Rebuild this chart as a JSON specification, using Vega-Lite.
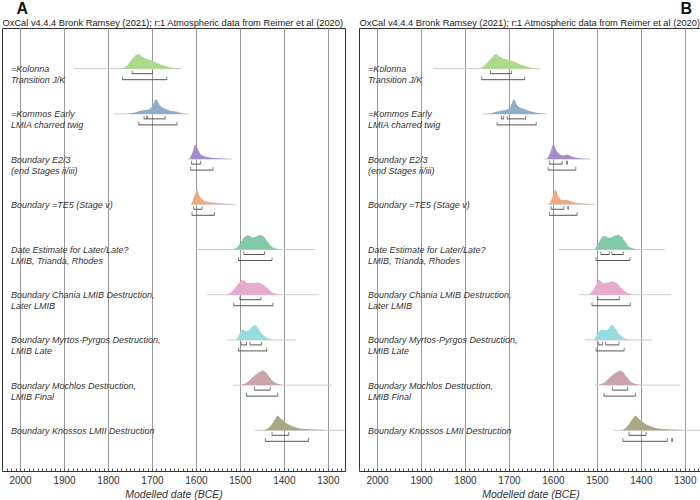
{
  "$schema": "https://vega.github.io/schema/vega-lite/v6.json",
  "padding": {"top": 0, "left": 1, "right": 0, "bottom": 0},
  "spacing": 12,
  "config": {
    "font": "Liberation Sans",
    "view": {"stroke": "#333", "strokeWidth": 1},
    "title": {"fontSize": 16, "fontWeight": "bold", "color": "#111", "offset": 1}
  },
  "datasets": {
    "tails": [
      {"p": "A", "r": 1, "date": 1877, "date2": 1633},
      {"p": "A", "r": 2, "date": 1786, "date2": 1617},
      {"p": "A", "r": 3, "date": 1620, "date2": 1518},
      {"p": "A", "r": 4, "date": 1611, "date2": 1508},
      {"p": "A", "r": 5, "date": 1599, "date2": 1330},
      {"p": "A", "r": 6, "date": 1574, "date2": 1319},
      {"p": "A", "r": 7, "date": 1531, "date2": 1373},
      {"p": "A", "r": 8, "date": 1514, "date2": 1291},
      {"p": "A", "r": 9, "date": 1467, "date2": 1261},
      {"p": "B", "r": 1, "date": 1873, "date2": 1629},
      {"p": "B", "r": 2, "date": 1759, "date2": 1614},
      {"p": "B", "r": 3, "date": 1621, "date2": 1514},
      {"p": "B", "r": 4, "date": 1612, "date2": 1506},
      {"p": "B", "r": 5, "date": 1587, "date2": 1346},
      {"p": "B", "r": 6, "date": 1542, "date2": 1331},
      {"p": "B", "r": 7, "date": 1528, "date2": 1374},
      {"p": "B", "r": 8, "date": 1505, "date2": 1310},
      {"p": "B", "r": 9, "date": 1462, "date2": 1262}
    ],
    "ranges": [
      {"p": "A", "r": 1, "lev": 68, "date": 1745, "date2": 1699},
      {"p": "A", "r": 1, "lev": 95, "date": 1767, "date2": 1666},
      {"p": "A", "r": 2, "lev": 68, "date": 1718, "date2": 1712},
      {"p": "A", "r": 2, "lev": 68, "date": 1710, "date2": 1670},
      {"p": "A", "r": 2, "lev": 95, "date": 1730, "date2": 1643},
      {"p": "A", "r": 3, "lev": 68, "date": 1610, "date2": 1589},
      {"p": "A", "r": 3, "lev": 95, "date": 1612, "date2": 1561},
      {"p": "A", "r": 4, "lev": 68, "date": 1605, "date2": 1586},
      {"p": "A", "r": 4, "lev": 95, "date": 1609, "date2": 1558},
      {"p": "A", "r": 5, "lev": 68, "date": 1491, "date2": 1444},
      {"p": "A", "r": 5, "lev": 95, "date": 1503, "date2": 1427},
      {"p": "A", "r": 6, "lev": 68, "date": 1500, "date2": 1452},
      {"p": "A", "r": 6, "lev": 95, "date": 1514, "date2": 1425},
      {"p": "A", "r": 7, "lev": 68, "date": 1497, "date2": 1485},
      {"p": "A", "r": 7, "lev": 68, "date": 1477, "date2": 1451},
      {"p": "A", "r": 7, "lev": 95, "date": 1503, "date2": 1439},
      {"p": "A", "r": 8, "lev": 68, "date": 1467, "date2": 1431},
      {"p": "A", "r": 8, "lev": 95, "date": 1485, "date2": 1414},
      {"p": "A", "r": 9, "lev": 68, "date": 1427, "date2": 1389},
      {"p": "A", "r": 9, "lev": 95, "date": 1442, "date2": 1344},
      {"p": "B", "r": 1, "lev": 68, "date": 1742, "date2": 1694},
      {"p": "B", "r": 1, "lev": 95, "date": 1762, "date2": 1664},
      {"p": "B", "r": 2, "lev": 68, "date": 1717, "date2": 1712},
      {"p": "B", "r": 2, "lev": 68, "date": 1704, "date2": 1662},
      {"p": "B", "r": 2, "lev": 95, "date": 1727, "date2": 1638},
      {"p": "B", "r": 3, "lev": 68, "date": 1608, "date2": 1579},
      {"p": "B", "r": 3, "lev": 68, "date": 1569, "date2": 1567},
      {"p": "B", "r": 3, "lev": 95, "date": 1611, "date2": 1548},
      {"p": "B", "r": 4, "lev": 68, "date": 1604, "date2": 1575},
      {"p": "B", "r": 4, "lev": 68, "date": 1566, "date2": 1565},
      {"p": "B", "r": 4, "lev": 95, "date": 1608, "date2": 1545},
      {"p": "B", "r": 5, "lev": 68, "date": 1491, "date2": 1472},
      {"p": "B", "r": 5, "lev": 68, "date": 1466, "date2": 1440},
      {"p": "B", "r": 5, "lev": 95, "date": 1502, "date2": 1425},
      {"p": "B", "r": 6, "lev": 68, "date": 1498, "date2": 1449},
      {"p": "B", "r": 6, "lev": 95, "date": 1511, "date2": 1424},
      {"p": "B", "r": 7, "lev": 68, "date": 1496, "date2": 1487},
      {"p": "B", "r": 7, "lev": 68, "date": 1480, "date2": 1450},
      {"p": "B", "r": 7, "lev": 95, "date": 1502, "date2": 1438},
      {"p": "B", "r": 8, "lev": 68, "date": 1465, "date2": 1430},
      {"p": "B", "r": 8, "lev": 95, "date": 1484, "date2": 1412},
      {"p": "B", "r": 9, "lev": 68, "date": 1427, "date2": 1388},
      {"p": "B", "r": 9, "lev": 95, "date": 1441, "date2": 1340},
      {"p": "B", "r": 9, "lev": 95, "date": 1330, "date2": 1328}
    ],
    "dens": [
      {"p": "A", "r": 1, "date": 1772, "d": 0}, {"p": "A", "r": 1, "date": 1758, "d": 0.18}, {"p": "A", "r": 1, "date": 1747, "d": 0.59}, {"p": "A", "r": 1, "date": 1739, "d": 0.86}, {"p": "A", "r": 1, "date": 1732, "d": 1}, {"p": "A", "r": 1, "date": 1724, "d": 0.86}, {"p": "A", "r": 1, "date": 1713, "d": 0.68}, {"p": "A", "r": 1, "date": 1701, "d": 0.57}, {"p": "A", "r": 1, "date": 1690, "d": 0.41}, {"p": "A", "r": 1, "date": 1679, "d": 0.27}, {"p": "A", "r": 1, "date": 1664, "d": 0.14}, {"p": "A", "r": 1, "date": 1648, "d": 0.05}, {"p": "A", "r": 1, "date": 1633, "d": 0},
      {"p": "A", "r": 2, "date": 1757, "d": 0}, {"p": "A", "r": 2, "date": 1739, "d": 0.09}, {"p": "A", "r": 2, "date": 1728, "d": 0.2}, {"p": "A", "r": 2, "date": 1717, "d": 0.27}, {"p": "A", "r": 2, "date": 1705, "d": 0.34}, {"p": "A", "r": 2, "date": 1698, "d": 0.61}, {"p": "A", "r": 2, "date": 1690, "d": 1}, {"p": "A", "r": 2, "date": 1685, "d": 0.73}, {"p": "A", "r": 2, "date": 1679, "d": 0.5}, {"p": "A", "r": 2, "date": 1667, "d": 0.32}, {"p": "A", "r": 2, "date": 1656, "d": 0.2}, {"p": "A", "r": 2, "date": 1645, "d": 0.16}, {"p": "A", "r": 2, "date": 1633, "d": 0.05}, {"p": "A", "r": 2, "date": 1622, "d": 0},
      {"p": "A", "r": 3, "date": 1615, "d": 0}, {"p": "A", "r": 3, "date": 1611, "d": 0.23}, {"p": "A", "r": 3, "date": 1607, "d": 0.52}, {"p": "A", "r": 3, "date": 1601, "d": 1}, {"p": "A", "r": 3, "date": 1595, "d": 0.64}, {"p": "A", "r": 3, "date": 1588, "d": 0.3}, {"p": "A", "r": 3, "date": 1576, "d": 0.16}, {"p": "A", "r": 3, "date": 1565, "d": 0.09}, {"p": "A", "r": 3, "date": 1550, "d": 0.05}, {"p": "A", "r": 3, "date": 1527, "d": 0.01}, {"p": "A", "r": 3, "date": 1518, "d": 0},
      {"p": "A", "r": 4, "date": 1611, "d": 0}, {"p": "A", "r": 4, "date": 1609, "d": 0.1}, {"p": "A", "r": 4, "date": 1603, "d": 0.6}, {"p": "A", "r": 4, "date": 1597, "d": 1}, {"p": "A", "r": 4, "date": 1592, "d": 0.57}, {"p": "A", "r": 4, "date": 1584, "d": 0.3}, {"p": "A", "r": 4, "date": 1573, "d": 0.18}, {"p": "A", "r": 4, "date": 1558, "d": 0.11}, {"p": "A", "r": 4, "date": 1542, "d": 0.07}, {"p": "A", "r": 4, "date": 1520, "d": 0.02}, {"p": "A", "r": 4, "date": 1508, "d": 0},
      {"p": "A", "r": 5, "date": 1520, "d": 0}, {"p": "A", "r": 5, "date": 1508, "d": 0.11}, {"p": "A", "r": 5, "date": 1501, "d": 0.34}, {"p": "A", "r": 5, "date": 1493, "d": 0.73}, {"p": "A", "r": 5, "date": 1482, "d": 0.97}, {"p": "A", "r": 5, "date": 1471, "d": 0.82}, {"p": "A", "r": 5, "date": 1453, "d": 1}, {"p": "A", "r": 5, "date": 1445, "d": 0.86}, {"p": "A", "r": 5, "date": 1436, "d": 0.5}, {"p": "A", "r": 5, "date": 1429, "d": 0.23}, {"p": "A", "r": 5, "date": 1417, "d": 0.07}, {"p": "A", "r": 5, "date": 1402, "d": 0},
      {"p": "A", "r": 6, "date": 1535, "d": 0}, {"p": "A", "r": 6, "date": 1523, "d": 0.11}, {"p": "A", "r": 6, "date": 1512, "d": 0.43}, {"p": "A", "r": 6, "date": 1504, "d": 0.73}, {"p": "A", "r": 6, "date": 1493, "d": 1}, {"p": "A", "r": 6, "date": 1482, "d": 0.8}, {"p": "A", "r": 6, "date": 1470, "d": 0.8}, {"p": "A", "r": 6, "date": 1459, "d": 0.84}, {"p": "A", "r": 6, "date": 1448, "d": 0.7}, {"p": "A", "r": 6, "date": 1436, "d": 0.4}, {"p": "A", "r": 6, "date": 1429, "d": 0.2}, {"p": "A", "r": 6, "date": 1417, "d": 0.07}, {"p": "A", "r": 6, "date": 1404, "d": 0},
      {"p": "A", "r": 7, "date": 1512, "d": 0}, {"p": "A", "r": 7, "date": 1508, "d": 0.05}, {"p": "A", "r": 7, "date": 1503, "d": 0.26}, {"p": "A", "r": 7, "date": 1497, "d": 0.65}, {"p": "A", "r": 7, "date": 1492, "d": 0.72}, {"p": "A", "r": 7, "date": 1486, "d": 0.58}, {"p": "A", "r": 7, "date": 1478, "d": 0.72}, {"p": "A", "r": 7, "date": 1470, "d": 0.95}, {"p": "A", "r": 7, "date": 1465, "d": 1}, {"p": "A", "r": 7, "date": 1458, "d": 0.77}, {"p": "A", "r": 7, "date": 1448, "d": 0.35}, {"p": "A", "r": 7, "date": 1440, "d": 0.16}, {"p": "A", "r": 7, "date": 1429, "d": 0.05}, {"p": "A", "r": 7, "date": 1417, "d": 0},
      {"p": "A", "r": 8, "date": 1500, "d": 0}, {"p": "A", "r": 8, "date": 1486, "d": 0.14}, {"p": "A", "r": 8, "date": 1474, "d": 0.45}, {"p": "A", "r": 8, "date": 1463, "d": 0.75}, {"p": "A", "r": 8, "date": 1453, "d": 0.93}, {"p": "A", "r": 8, "date": 1448, "d": 1}, {"p": "A", "r": 8, "date": 1440, "d": 0.84}, {"p": "A", "r": 8, "date": 1432, "d": 0.52}, {"p": "A", "r": 8, "date": 1423, "d": 0.23}, {"p": "A", "r": 8, "date": 1414, "d": 0.09}, {"p": "A", "r": 8, "date": 1402, "d": 0.02}, {"p": "A", "r": 8, "date": 1395, "d": 0},
      {"p": "A", "r": 9, "date": 1448, "d": 0}, {"p": "A", "r": 9, "date": 1436, "d": 0.14}, {"p": "A", "r": 9, "date": 1427, "d": 0.43}, {"p": "A", "r": 9, "date": 1420, "d": 0.77}, {"p": "A", "r": 9, "date": 1414, "d": 1}, {"p": "A", "r": 9, "date": 1406, "d": 0.77}, {"p": "A", "r": 9, "date": 1395, "d": 0.5}, {"p": "A", "r": 9, "date": 1383, "d": 0.32}, {"p": "A", "r": 9, "date": 1368, "d": 0.16}, {"p": "A", "r": 9, "date": 1353, "d": 0.09}, {"p": "A", "r": 9, "date": 1330, "d": 0.05}, {"p": "A", "r": 9, "date": 1300, "d": 0.01}, {"p": "A", "r": 9, "date": 1290, "d": 0},
      {"p": "B", "r": 1, "date": 1768, "d": 0}, {"p": "B", "r": 1, "date": 1755, "d": 0.23}, {"p": "B", "r": 1, "date": 1744, "d": 0.59}, {"p": "B", "r": 1, "date": 1736, "d": 0.86}, {"p": "B", "r": 1, "date": 1730, "d": 1}, {"p": "B", "r": 1, "date": 1721, "d": 0.82}, {"p": "B", "r": 1, "date": 1710, "d": 0.68}, {"p": "B", "r": 1, "date": 1698, "d": 0.59}, {"p": "B", "r": 1, "date": 1687, "d": 0.45}, {"p": "B", "r": 1, "date": 1676, "d": 0.32}, {"p": "B", "r": 1, "date": 1661, "d": 0.16}, {"p": "B", "r": 1, "date": 1646, "d": 0.05}, {"p": "B", "r": 1, "date": 1630, "d": 0},
      {"p": "B", "r": 2, "date": 1750, "d": 0}, {"p": "B", "r": 2, "date": 1740, "d": 0.05}, {"p": "B", "r": 2, "date": 1729, "d": 0.14}, {"p": "B", "r": 2, "date": 1717, "d": 0.23}, {"p": "B", "r": 2, "date": 1702, "d": 0.34}, {"p": "B", "r": 2, "date": 1695, "d": 0.61}, {"p": "B", "r": 2, "date": 1689, "d": 1}, {"p": "B", "r": 2, "date": 1683, "d": 0.68}, {"p": "B", "r": 2, "date": 1676, "d": 0.45}, {"p": "B", "r": 2, "date": 1664, "d": 0.32}, {"p": "B", "r": 2, "date": 1653, "d": 0.2}, {"p": "B", "r": 2, "date": 1642, "d": 0.11}, {"p": "B", "r": 2, "date": 1630, "d": 0.05}, {"p": "B", "r": 2, "date": 1619, "d": 0},
      {"p": "B", "r": 3, "date": 1615, "d": 0}, {"p": "B", "r": 3, "date": 1612, "d": 0.07}, {"p": "B", "r": 3, "date": 1606, "d": 0.45}, {"p": "B", "r": 3, "date": 1599, "d": 1}, {"p": "B", "r": 3, "date": 1593, "d": 0.64}, {"p": "B", "r": 3, "date": 1585, "d": 0.34}, {"p": "B", "r": 3, "date": 1576, "d": 0.25}, {"p": "B", "r": 3, "date": 1566, "d": 0.3}, {"p": "B", "r": 3, "date": 1557, "d": 0.18}, {"p": "B", "r": 3, "date": 1544, "d": 0.07}, {"p": "B", "r": 3, "date": 1525, "d": 0.02}, {"p": "B", "r": 3, "date": 1514, "d": 0},
      {"p": "B", "r": 4, "date": 1611, "d": 0}, {"p": "B", "r": 4, "date": 1608, "d": 0.05}, {"p": "B", "r": 4, "date": 1602, "d": 0.45}, {"p": "B", "r": 4, "date": 1594, "d": 1}, {"p": "B", "r": 4, "date": 1588, "d": 0.57}, {"p": "B", "r": 4, "date": 1579, "d": 0.3}, {"p": "B", "r": 4, "date": 1570, "d": 0.3}, {"p": "B", "r": 4, "date": 1561, "d": 0.23}, {"p": "B", "r": 4, "date": 1548, "d": 0.11}, {"p": "B", "r": 4, "date": 1529, "d": 0.05}, {"p": "B", "r": 4, "date": 1510, "d": 0},
      {"p": "B", "r": 5, "date": 1510, "d": 0}, {"p": "B", "r": 5, "date": 1506, "d": 0.02}, {"p": "B", "r": 5, "date": 1498, "d": 0.34}, {"p": "B", "r": 5, "date": 1491, "d": 0.73}, {"p": "B", "r": 5, "date": 1483, "d": 0.93}, {"p": "B", "r": 5, "date": 1472, "d": 0.8}, {"p": "B", "r": 5, "date": 1461, "d": 0.93}, {"p": "B", "r": 5, "date": 1451, "d": 1}, {"p": "B", "r": 5, "date": 1442, "d": 0.8}, {"p": "B", "r": 5, "date": 1434, "d": 0.45}, {"p": "B", "r": 5, "date": 1427, "d": 0.18}, {"p": "B", "r": 5, "date": 1415, "d": 0.05}, {"p": "B", "r": 5, "date": 1404, "d": 0},
      {"p": "B", "r": 6, "date": 1522, "d": 0}, {"p": "B", "r": 6, "date": 1517, "d": 0.05}, {"p": "B", "r": 6, "date": 1510, "d": 0.27}, {"p": "B", "r": 6, "date": 1502, "d": 0.66}, {"p": "B", "r": 6, "date": 1495, "d": 1}, {"p": "B", "r": 6, "date": 1486, "d": 0.8}, {"p": "B", "r": 6, "date": 1476, "d": 0.84}, {"p": "B", "r": 6, "date": 1465, "d": 0.93}, {"p": "B", "r": 6, "date": 1453, "d": 0.73}, {"p": "B", "r": 6, "date": 1442, "d": 0.39}, {"p": "B", "r": 6, "date": 1433, "d": 0.16}, {"p": "B", "r": 6, "date": 1423, "d": 0.05}, {"p": "B", "r": 6, "date": 1412, "d": 0},
      {"p": "B", "r": 7, "date": 1510, "d": 0}, {"p": "B", "r": 7, "date": 1506, "d": 0.05}, {"p": "B", "r": 7, "date": 1500, "d": 0.34}, {"p": "B", "r": 7, "date": 1493, "d": 0.66}, {"p": "B", "r": 7, "date": 1486, "d": 0.7}, {"p": "B", "r": 7, "date": 1478, "d": 0.66}, {"p": "B", "r": 7, "date": 1471, "d": 0.89}, {"p": "B", "r": 7, "date": 1465, "d": 1}, {"p": "B", "r": 7, "date": 1457, "d": 0.75}, {"p": "B", "r": 7, "date": 1449, "d": 0.39}, {"p": "B", "r": 7, "date": 1440, "d": 0.16}, {"p": "B", "r": 7, "date": 1431, "d": 0.05}, {"p": "B", "r": 7, "date": 1419, "d": 0},
      {"p": "B", "r": 8, "date": 1500, "d": 0}, {"p": "B", "r": 8, "date": 1495, "d": 0.02}, {"p": "B", "r": 8, "date": 1483, "d": 0.18}, {"p": "B", "r": 8, "date": 1472, "d": 0.48}, {"p": "B", "r": 8, "date": 1461, "d": 0.77}, {"p": "B", "r": 8, "date": 1453, "d": 0.91}, {"p": "B", "r": 8, "date": 1447, "d": 1}, {"p": "B", "r": 8, "date": 1440, "d": 0.86}, {"p": "B", "r": 8, "date": 1433, "d": 0.59}, {"p": "B", "r": 8, "date": 1423, "d": 0.25}, {"p": "B", "r": 8, "date": 1413, "d": 0.09}, {"p": "B", "r": 8, "date": 1400, "d": 0.02}, {"p": "B", "r": 8, "date": 1393, "d": 0},
      {"p": "B", "r": 9, "date": 1448, "d": 0}, {"p": "B", "r": 9, "date": 1442, "d": 0.02}, {"p": "B", "r": 9, "date": 1434, "d": 0.18}, {"p": "B", "r": 9, "date": 1425, "d": 0.5}, {"p": "B", "r": 9, "date": 1418, "d": 0.82}, {"p": "B", "r": 9, "date": 1412, "d": 1}, {"p": "B", "r": 9, "date": 1404, "d": 0.77}, {"p": "B", "r": 9, "date": 1393, "d": 0.5}, {"p": "B", "r": 9, "date": 1381, "d": 0.32}, {"p": "B", "r": 9, "date": 1366, "d": 0.16}, {"p": "B", "r": 9, "date": 1351, "d": 0.09}, {"p": "B", "r": 9, "date": 1329, "d": 0.05}, {"p": "B", "r": 9, "date": 1298, "d": 0.01}, {"p": "B", "r": 9, "date": 1288, "d": 0}
    ]
  },
  "hconcat": [
    {
      "width": 343,
      "height": 443,
      "title": {"text": "A", "anchor": "start", "dx": 15},
      "encoding": {
        "x": {
          "field": "date", "type": "quantitative",
          "scale": {"domain": [1261, 2041], "reverse": true, "nice": false, "zero": false},
          "axis": {
            "title": "Modelled date (BCE)", "titleFontStyle": "italic", "titleFontSize": 10.5, "titleFontWeight": "normal", "titleColor": "#333", "titlePadding": 4,
            "values": [1270,1280,1290,1300,1310,1320,1330,1340,1350,1360,1370,1380,1390,1400,1410,1420,1430,1440,1450,1460,1470,1480,1490,1500,1510,1520,1530,1540,1550,1560,1570,1580,1590,1600,1610,1620,1630,1640,1650,1660,1670,1680,1690,1700,1710,1720,1730,1740,1750,1760,1770,1780,1790,1800,1810,1820,1830,1840,1850,1860,1870,1880,1890,1900,1910,1920,1930,1940,1950,1960,1970,1980,1990,2000,2010,2020,2030,2040],
            "format": "d",
            "labelExpr": "datum.value % 100 === 0 ? datum.label : ''",
            "labelOverlap": false, "labelFlush": false, "labelFontSize": 10, "labelColor": "#333", "labelPadding": 7,
            "tickSize": -3, "tickColor": "#555",
            "grid": true, "gridColor": "#9a9a9a",
            "gridOpacity": {"condition": {"test": "datum.value % 100 !== 0", "value": 0}, "value": 1},
            "domainColor": "#333"
          }
        },
        "y": {
          "field": "r", "type": "ordinal",
          "scale": {"type": "point", "padding": 0.9},
          "axis": {
            "title": "OxCal v4.4.4 Bronk Ramsey (2021); r:1 Atmospheric data from Reimer et al (2020)",
            "ticks": false, "domain": false, "grid": false,
            "labels": true, "labelAlign": "left", "labelBaseline": "middle", "labelPadding": -8.5, "labelLimit": 0, "labelOverlap": false,
            "labelFontSize": 9, "labelFontStyle": "italic", "labelColor": "#333", "labelLineHeight": 11,
            "labelExpr": "datum.value == 1 ? ['=Kolonna', 'Transition J/K'] : datum.value == 2 ? ['=Kommos Early', 'LMIA charred twig'] : datum.value == 3 ? ['Boundary E2/3', '(end Stages ii/iii)'] : datum.value == 4 ? 'Boundary =TE5 (Stage v)' : datum.value == 5 ? ['Date Estimate for Later/Late?', 'LMIB, Trianda, Rhodes'] : datum.value == 6 ? ['Boundary Chania LMIB Destruction,', 'Later LMIB'] : datum.value == 7 ? ['Boundary Myrtos-Pyrgos Destruction,', 'LMIB Late'] : datum.value == 8 ? ['Boundary Mochlos Destruction,', 'LMIB Final'] : 'Boundary Knossos LMII Destruction'",
            "titleAngle": 0, "titleX": 0, "titleY": -3, "titleAlign": "left", "titleBaseline": "alphabetic",
            "titleFontSize": 9.3, "titleFontWeight": "normal", "titleColor": "#222"
          }
        }
      },
      "layer": [
        {
          "data": {"name": "tails"},
          "transform": [{"filter": "datum.p === 'A'"}],
          "mark": {"type": "rule", "color": "#cccccc", "strokeWidth": 1},
          "encoding": {"x2": {"field": "date2"}}
        },
        {
          "data": {"name": "dens"},
          "transform": [{"filter": "datum.p === 'A'"}],
          "mark": {"type": "line", "filled": true, "interpolate": "monotone", "strokeWidth": 0},
          "encoding": {
            "order": {"field": "date", "type": "quantitative", "sort": "descending"},
            "yOffset": {"field": "d", "type": "quantitative", "scale": {"domain": [0, 1], "range": [0, -14.6]}},
            "color": {"field": "r", "type": "nominal", "scale": {"domain": [1,2,3,4,5,6,7,8,9], "range": ["#acd98c","#90acc9","#a68cc8","#efaa82","#82c9a5","#e8aacd","#97dde0","#c9a5aa","#aaa785"]}, "legend": null}
          }
        },
        {
          "data": {"name": "ranges"},
          "transform": [{"filter": "datum.p === 'A' && datum.lev === 68"}],
          "mark": {"type": "rule", "color": "#555", "strokeWidth": 1, "yOffset": 5},
          "encoding": {"x2": {"field": "date2"}}
        },
        {
          "data": {"name": "ranges"},
          "transform": [{"filter": "datum.p === 'A' && datum.lev === 95"}],
          "mark": {"type": "rule", "color": "#555", "strokeWidth": 1, "yOffset": 11},
          "encoding": {"x2": {"field": "date2"}}
        },
        {
          "data": {"name": "ranges"},
          "transform": [{"filter": "datum.p === 'A' && datum.lev === 68"}, {"fold": ["date", "date2"], "as": ["k", "v"]}],
          "mark": {"type": "tick", "color": "#555", "thickness": 1, "size": 3.5, "yOffset": 3.5},
          "encoding": {"x": {"field": "v", "type": "quantitative"}}
        },
        {
          "data": {"name": "ranges"},
          "transform": [{"filter": "datum.p === 'A' && datum.lev === 95"}, {"fold": ["date", "date2"], "as": ["k", "v"]}],
          "mark": {"type": "tick", "color": "#555", "thickness": 1, "size": 3.5, "yOffset": 9.5},
          "encoding": {"x": {"field": "v", "type": "quantitative"}}
        }
      ]
    },
    {
      "width": 343,
      "height": 443,
      "title": {"text": "B", "anchor": "end", "dx": -10},
      "encoding": {
        "x": {
          "field": "date", "type": "quantitative",
          "scale": {"domain": [1261, 2041], "reverse": true, "nice": false, "zero": false},
          "axis": {
            "title": "Modelled date (BCE)", "titleFontStyle": "italic", "titleFontSize": 10.5, "titleFontWeight": "normal", "titleColor": "#333", "titlePadding": 4,
            "values": [1270,1280,1290,1300,1310,1320,1330,1340,1350,1360,1370,1380,1390,1400,1410,1420,1430,1440,1450,1460,1470,1480,1490,1500,1510,1520,1530,1540,1550,1560,1570,1580,1590,1600,1610,1620,1630,1640,1650,1660,1670,1680,1690,1700,1710,1720,1730,1740,1750,1760,1770,1780,1790,1800,1810,1820,1830,1840,1850,1860,1870,1880,1890,1900,1910,1920,1930,1940,1950,1960,1970,1980,1990,2000,2010,2020,2030,2040],
            "format": "d",
            "labelExpr": "datum.value % 100 === 0 ? datum.label : ''",
            "labelOverlap": false, "labelFlush": false, "labelFontSize": 10, "labelColor": "#333", "labelPadding": 7,
            "tickSize": -3, "tickColor": "#555",
            "grid": true, "gridColor": "#9a9a9a",
            "gridOpacity": {"condition": {"test": "datum.value % 100 !== 0", "value": 0}, "value": 1},
            "domainColor": "#333"
          }
        },
        "y": {
          "field": "r", "type": "ordinal",
          "scale": {"type": "point", "padding": 0.9},
          "axis": {
            "title": "OxCal v4.4.4 Bronk Ramsey (2021); r:1 Atmospheric data from Reimer et al (2020)",
            "ticks": false, "domain": false, "grid": false,
            "labels": true, "labelAlign": "left", "labelBaseline": "middle", "labelPadding": -8.5, "labelLimit": 0, "labelOverlap": false,
            "labelFontSize": 9, "labelFontStyle": "italic", "labelColor": "#333", "labelLineHeight": 11,
            "labelExpr": "datum.value == 1 ? ['=Kolonna', 'Transition J/K'] : datum.value == 2 ? ['=Kommos Early', 'LMIA charred twig'] : datum.value == 3 ? ['Boundary E2/3', '(end Stages ii/iii)'] : datum.value == 4 ? 'Boundary =TE5 (Stage v)' : datum.value == 5 ? ['Date Estimate for Later/Late?', 'LMIB, Trianda, Rhodes'] : datum.value == 6 ? ['Boundary Chania LMIB Destruction,', 'Later LMIB'] : datum.value == 7 ? ['Boundary Myrtos-Pyrgos Destruction,', 'LMIB Late'] : datum.value == 8 ? ['Boundary Mochlos Destruction,', 'LMIB Final'] : 'Boundary Knossos LMII Destruction'",
            "titleAngle": 0, "titleX": 0, "titleY": -3, "titleAlign": "left", "titleBaseline": "alphabetic",
            "titleFontSize": 9.3, "titleFontWeight": "normal", "titleColor": "#222"
          }
        }
      },
      "layer": [
        {
          "data": {"name": "tails"},
          "transform": [{"filter": "datum.p === 'B'"}],
          "mark": {"type": "rule", "color": "#cccccc", "strokeWidth": 1},
          "encoding": {"x2": {"field": "date2"}}
        },
        {
          "data": {"name": "dens"},
          "transform": [{"filter": "datum.p === 'B'"}],
          "mark": {"type": "line", "filled": true, "interpolate": "monotone", "strokeWidth": 0},
          "encoding": {
            "order": {"field": "date", "type": "quantitative", "sort": "descending"},
            "yOffset": {"field": "d", "type": "quantitative", "scale": {"domain": [0, 1], "range": [0, -14.6]}},
            "color": {"field": "r", "type": "nominal", "scale": {"domain": [1,2,3,4,5,6,7,8,9], "range": ["#acd98c","#90acc9","#a68cc8","#efaa82","#82c9a5","#e8aacd","#97dde0","#c9a5aa","#aaa785"]}, "legend": null}
          }
        },
        {
          "data": {"name": "ranges"},
          "transform": [{"filter": "datum.p === 'B' && datum.lev === 68"}],
          "mark": {"type": "rule", "color": "#555", "strokeWidth": 1, "yOffset": 5},
          "encoding": {"x2": {"field": "date2"}}
        },
        {
          "data": {"name": "ranges"},
          "transform": [{"filter": "datum.p === 'B' && datum.lev === 95"}],
          "mark": {"type": "rule", "color": "#555", "strokeWidth": 1, "yOffset": 11},
          "encoding": {"x2": {"field": "date2"}}
        },
        {
          "data": {"name": "ranges"},
          "transform": [{"filter": "datum.p === 'B' && datum.lev === 68"}, {"fold": ["date", "date2"], "as": ["k", "v"]}],
          "mark": {"type": "tick", "color": "#555", "thickness": 1, "size": 3.5, "yOffset": 3.5},
          "encoding": {"x": {"field": "v", "type": "quantitative"}}
        },
        {
          "data": {"name": "ranges"},
          "transform": [{"filter": "datum.p === 'B' && datum.lev === 95"}, {"fold": ["date", "date2"], "as": ["k", "v"]}],
          "mark": {"type": "tick", "color": "#555", "thickness": 1, "size": 3.5, "yOffset": 9.5},
          "encoding": {"x": {"field": "v", "type": "quantitative"}}
        }
      ]
    }
  ]
}
